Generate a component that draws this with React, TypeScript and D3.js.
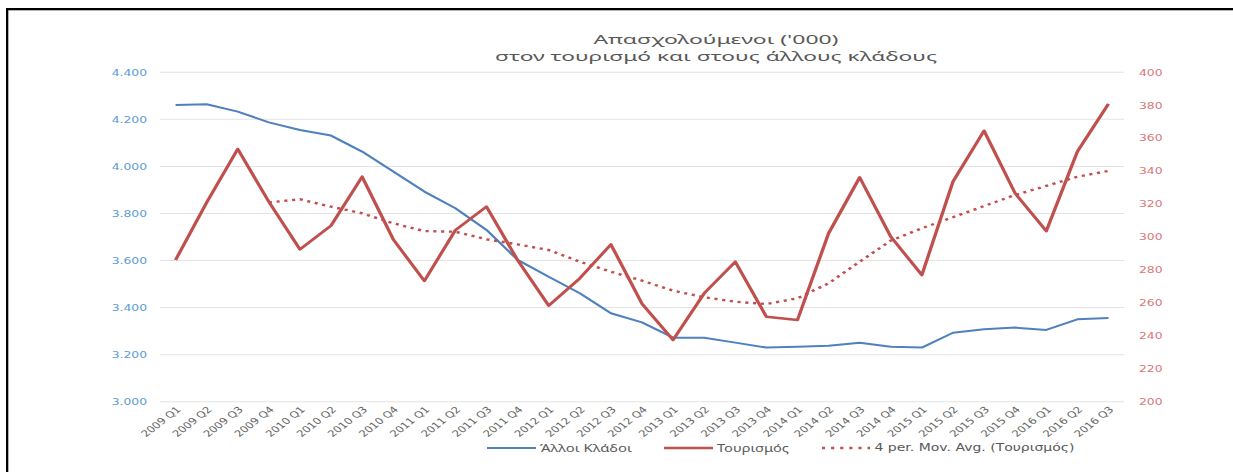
import React from 'react';
import * as d3 from 'd3';

const categories = [
  '2009 Q1', '2009 Q2', '2009 Q3', '2009 Q4',
  '2010 Q1', '2010 Q2', '2010 Q3', '2010 Q4',
  '2011 Q1', '2011 Q2', '2011 Q3', '2011 Q4',
  '2012 Q1', '2012 Q2', '2012 Q3', '2012 Q4',
  '2013 Q1', '2013 Q2', '2013 Q3', '2013 Q4',
  '2014 Q1', '2014 Q2', '2014 Q3', '2014 Q4',
  '2015 Q1', '2015 Q2', '2015 Q3', '2015 Q4',
  '2016 Q1', '2016 Q2', '2016 Q3',
];

const otherSectors = [
  4261, 4264, 4233, 4187, 4155, 4131, 4063, 3978, 3893, 3822, 3730, 3603,
  3531, 3461, 3376, 3337, 3272, 3272, 3251, 3230, 3234, 3238, 3251, 3234,
  3230, 3293, 3308, 3315, 3305, 3350, 3356,
];

const tourism = [
  286.0, 321.0, 353.4, 321.4, 292.5, 306.9, 336.6, 298.6, 273.3, 304.2, 318.4, 286.0,
  258.3, 274.9, 295.5, 259.5, 237.5, 265.8, 285.0, 251.6, 249.6, 302.2, 336.2, 300.2,
  276.9, 333.6, 364.5, 326.5, 303.6, 351.8, 380.8,
];

const tourismMovAvg: (number | null)[] = [
  null, null, null, 321.0, 322.9, 318.4, 314.4, 308.3, 303.6, 303.2, 298.6, 295.5,
  292.1, 285.0, 278.9, 273.5, 267.4, 263.4, 260.7, 259.3, 262.8, 271.9, 285.0, 297.8,
  305.3, 312.0, 318.8, 325.5, 331.0, 336.6, 340.1,
];

const leftTicks = [3000, 3200, 3400, 3600, 3800, 4000, 4200, 4400];
const rightTicks = [200, 220, 240, 260, 280, 300, 320, 340, 360, 380, 400];

const titleLines = ["Απασχολούμενοι ('000)", 'στον τουρισμό και στους άλλους κλάδους'];
const legendLabels = ['Άλλοι Κλάδοι', 'Τουρισμός', '4 per. Mov. Avg. (Τουρισμός)'];

const W = 1233;
const H = 472;
const SX = 1.3; // horizontal stretch of the whole picture

const BLUE = '#4F81BD';
const RED = '#C0504D';
const GRID = '#E3E3E3';
const TEXT = '#595959';

const locale = d3.formatLocale({ decimal: ',', thousands: '.', grouping: [3], currency: ['', '€'] });
const fmtLeft = locale.format(',d');

export default function App() {
  const x = d3.scaleBand<string>().domain(categories).range([160 / SX, 1124 / SX]).padding(0);
  const cx = (c: string) => (x(c) as number) + x.bandwidth() / 2;
  const yL = d3.scaleLinear().domain([3000, 4400]).range([401.7, 72.3]);
  const yR = d3.scaleLinear().domain([200, 400]).range([401.7, 72.3]);

  const lineL = d3
    .line<number>()
    .x((_, i) => cx(categories[i]))
    .y((d) => yL(d));
  const lineR = d3
    .line<number | null>()
    .defined((d) => d != null)
    .x((_, i) => cx(categories[i]))
    .y((d) => yR(d as number));

  const plotL = 160 / SX;
  const plotR = 1124 / SX;
  const legendY = 448;

  return (
    <svg
      width={W}
      height={H}
      style={{ position: 'absolute', left: 0, top: 0, background: '#fff' }}
    >
      <rect x={0} y={0} width={W} height={H} fill="#fff" />
      <g transform={`scale(${SX},1)`}>
        {leftTicks.map((t) => (
          <line key={t} x1={plotL} x2={plotR} y1={yL(t)} y2={yL(t)} stroke={GRID} strokeWidth={1} />
        ))}
        {leftTicks.map((t) => (
          <text
            key={'l' + t}
            x={147 / SX}
            y={yL(t)}
            dy="0.35em"
            textAnchor="end"
            fontFamily="DejaVu Sans"
            fontSize={9.5}
            fill="#5B9BD5"
          >
            {fmtLeft(t)}
          </text>
        ))}
        {rightTicks.map((t) => (
          <text
            key={'r' + t}
            x={1139 / SX}
            y={yR(t)}
            dy="0.35em"
            textAnchor="start"
            fontFamily="DejaVu Sans"
            fontSize={9.5}
            fill="#D9777A"
          >
            {t}
          </text>
        ))}
        {categories.map((c) => (
          <text
            key={c}
            transform={`translate(${cx(c) + 3 / SX},${408}) rotate(-45)`}
            dy="0.35em"
            textAnchor="end"
            fontFamily="DejaVu Sans"
            fontSize={9}
            fill="#666666"
          >
            {c}
          </text>
        ))}
        <path d={lineL(otherSectors) || ''} fill="none" stroke={BLUE} strokeWidth={2} strokeLinejoin="round" />
        <path d={lineR(tourism) || ''} fill="none" stroke={RED} strokeWidth={2.6} strokeLinejoin="round" />
        <path
          d={lineR(tourismMovAvg) || ''}
          fill="none"
          stroke={RED}
          strokeWidth={2.4}
          strokeDasharray="2.4 3.6"
        />
        <text
          x={716 / SX}
          y={44}
          textAnchor="middle"
          fontFamily="Noto Sans"
          fontSize={12.5}
          fill={TEXT}
          textLength={245 / SX}
          lengthAdjust="spacingAndGlyphs"
        >
          {titleLines[0]}
        </text>
        <text
          x={716 / SX}
          y={61.5}
          textAnchor="middle"
          fontFamily="Noto Sans"
          fontSize={12.5}
          fill={TEXT}
          textLength={442 / SX}
          lengthAdjust="spacingAndGlyphs"
        >
          {titleLines[1]}
        </text>
        <line x1={487 / SX} x2={536 / SX} y1={legendY} y2={legendY} stroke={BLUE} strokeWidth={2} />
        <text x={540 / SX} y={legendY} dy="0.35em" fontFamily="Noto Sans" fontSize={11} fill={TEXT}
          textLength={92 / SX} lengthAdjust="spacingAndGlyphs">
          {legendLabels[0]}
        </text>
        <line x1={664 / SX} x2={713 / SX} y1={legendY} y2={legendY} stroke={RED} strokeWidth={2.6} />
        <text x={717 / SX} y={legendY} dy="0.35em" fontFamily="Noto Sans" fontSize={11} fill={TEXT}
          textLength={72 / SX} lengthAdjust="spacingAndGlyphs">
          {legendLabels[1]}
        </text>
        <line x1={822 / SX} x2={870 / SX} y1={legendY} y2={legendY} stroke={RED} strokeWidth={2.4}
          strokeDasharray="2.4 4.6" />
        <text x={874.5 / SX} y={legendY} dy="0.35em" fontFamily="DejaVu Sans" fontSize={10} fill={TEXT}
          textLength={200 / SX} lengthAdjust="spacingAndGlyphs">
          {legendLabels[2]}
        </text>
      </g>
      <rect x={6} y={8} width={W - 6} height={2.3} fill="#000" />
      <rect x={6} y={8} width={2.3} height={H - 8} fill="#000" />
    </svg>
  );
}
